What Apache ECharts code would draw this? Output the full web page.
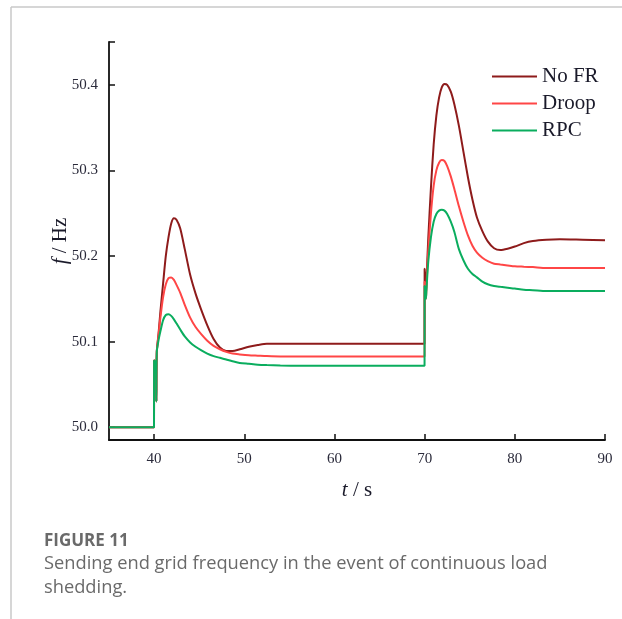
<!DOCTYPE html>
<html>
<head>
<meta charset="utf-8">
<script src="https://cdn.jsdelivr.net/npm/echarts@6/dist/echarts.min.js"></script>
<style>
  html, body { margin: 0; padding: 0; background: #fff; }
  #chart { width: 622px; height: 619px; }
</style>
</head>
<body>
<div id="chart"></div>
<script>
// ==============================
// data
// ==============================
const seriesNames = ['No FR', 'Droop', 'RPC'];
const seriesColors = ['#8e1b1b', '#ff4646', '#0aad5e'];

const timeS = [
  35, 39.99, 40.0, 40.2, 40.25, 40.3, 40.5, 40.7, 41.0, 41.3, 41.6, 41.9, 42.2, 42.5, 42.9,
  43.4, 44.0, 44.6, 45.2, 45.9, 46.6, 47.3, 48.0, 48.7, 49.5, 50.5, 51.5, 52.5, 54, 56, 60, 65,
  69.99, 70.0, 70.15, 70.2, 70.4, 70.7, 71.0, 71.3, 71.6, 71.9, 72.2, 72.5, 72.9, 73.3, 73.8,
  74.3, 74.8, 75.3, 75.8, 76.4, 77.0, 77.7, 78.4, 79.2, 80.0, 81.0, 82.0, 83.5, 85, 87.5, 90
];

const noFR = [
  50.0, 50.0, 50.078, 50.075, 50.03, 50.088, 50.110, 50.135, 50.168, 50.200, 50.222, 50.238, 50.244, 50.242, 50.232,
  50.208, 50.178, 50.156, 50.138, 50.119, 50.103, 50.093, 50.089, 50.089, 50.091, 50.094, 50.096, 50.0975, 50.0975, 50.0975, 50.0975, 50.0975,
  50.0975, 50.185, 50.155, 50.170, 50.220, 50.280, 50.330, 50.364, 50.385, 50.397, 50.401, 50.400, 50.392, 50.377, 50.352,
  50.322, 50.292, 50.266, 50.245, 50.229, 50.217, 50.209, 50.207, 50.2085, 50.211, 50.215, 50.2175, 50.219, 50.2195, 50.219, 50.2185
];

const droop = [
  50.0, 50.0, 50.078, 50.075, 50.03, 50.088, 50.108, 50.128, 50.152, 50.167, 50.174, 50.175, 50.172, 50.166, 50.157,
  50.143, 50.128, 50.117, 50.109, 50.101, 50.095, 50.091, 50.088, 50.086, 50.085, 50.084, 50.0835, 50.083, 50.0826, 50.0826, 50.0826, 50.0826,
  50.0826, 50.170, 50.150, 50.165, 50.205, 50.250, 50.282, 50.300, 50.309, 50.312, 50.311, 50.305, 50.293, 50.278, 50.258,
  50.240, 50.224, 50.212, 50.204, 50.198, 50.194, 50.191, 50.190, 50.189, 50.188, 50.1875, 50.187, 50.186, 50.186, 50.186, 50.186
];

const rpc = [
  50.0, 50.0, 50.078, 50.075, 50.03, 50.088, 50.102, 50.112, 50.125, 50.131, 50.132, 50.130, 50.126, 50.121, 50.114,
  50.106, 50.099, 50.094, 50.090, 50.086, 50.083, 50.081, 50.079, 50.077, 50.075, 50.074, 50.073, 50.0725, 50.072, 50.0717, 50.0717, 50.0717,
  50.0717, 50.165, 50.150, 50.160, 50.193, 50.222, 50.240, 50.249, 50.253, 50.254, 50.253, 50.249, 50.240, 50.228, 50.208,
  50.195, 50.185, 50.179, 50.175, 50.170, 50.167, 50.165, 50.164, 50.163, 50.162, 50.1605, 50.160, 50.159, 50.159, 50.159, 50.159
];

const xTicks = [40, 50, 60, 70, 80, 90];
const yTicks = [50.0, 50.1, 50.2, 50.3, 50.4];

const allValues = [noFR, droop, rpc];

// ==============================
// chart
// ==============================
const chart = echarts.init(document.getElementById('chart'));

const axisFont = 'Liberation Serif';
const captionFont = '"Open Sans"';

chart.setOption({
  animation: false,
  backgroundColor: '#fff',
  grid: { left: 109, top: 42, right: 17, bottom: 179 },
  legend: {
    orient: 'vertical',
    left: 492,
    top: 66,
    padding: 0,
    icon: 'rect',
    itemWidth: 45,
    itemHeight: 2,
    itemGap: 6,
    data: seriesNames,
    textStyle: { fontFamily: axisFont, fontSize: 21, color: '#1a1a2a' }
  },
  xAxis: {
    type: 'value',
    min: 35,
    max: 90,
    splitLine: { show: false },
    axisLine: { onZero: false, lineStyle: { color: '#111', width: 1.8 } },
    axisTick: { inside: true, length: 6, customValues: xTicks, lineStyle: { color: '#111', width: 1.5 } },
    axisLabel: { customValues: xTicks, margin: 12, fontFamily: axisFont, fontSize: 15, color: '#2a2a3a' },
    name: '{i|t} / s',
    nameLocation: 'middle',
    nameGap: 40,
    nameMoveOverlap: false,
    nameTextStyle: {
      fontFamily: axisFont, fontSize: 21, color: '#1a1a2a',
      rich: { i: { fontFamily: axisFont, fontSize: 21, fontStyle: 'italic', color: '#1a1a2a' } }
    }
  },
  yAxis: {
    type: 'value',
    min: 49.985,
    max: 50.45,
    splitLine: { show: false },
    axisLine: { onZero: false, lineStyle: { color: '#111', width: 1.8 } },
    axisTick: { inside: true, length: 6, customValues: yTicks.concat([50.45]), lineStyle: { color: '#111', width: 1.5 } },
    axisLabel: {
      customValues: yTicks, margin: 11, fontFamily: axisFont, fontSize: 15, color: '#2a2a3a',
      formatter: v => v.toFixed(1)
    },
    name: '{i|f} / Hz',
    nameLocation: 'middle',
    nameGap: 38,
    nameMoveOverlap: false,
    nameTextStyle: {
      fontFamily: axisFont, fontSize: 21, color: '#1a1a2a',
      rich: { i: { fontFamily: axisFont, fontSize: 21, fontStyle: 'italic', color: '#1a1a2a' } }
    }
  },
  series: seriesNames.map((name, k) => ({
    name,
    type: 'line',
    symbol: 'none',
    smooth: 0.25,
    data: timeS.map((t, i) => [t, allValues[k][i]]),
    lineStyle: { color: seriesColors[k], width: 2 },
    itemStyle: { color: seriesColors[k] }
  })),
  graphic: [
    { type: 'line', shape: { x1: 11, y1: 7, x2: 622, y2: 7 }, style: { stroke: '#c8c8c8', lineWidth: 1.5 } },
    { type: 'line', shape: { x1: 11, y1: 7, x2: 11, y2: 619 }, style: { stroke: '#c8c8c8', lineWidth: 1.5 } },
    {
      type: 'text', left: 44, top: 533,
      style: { text: 'FIGURE 11', font: '700 17px ' + captionFont, fill: '#6a6a6a' }
    },
    {
      type: 'text', left: 44, top: 555,
      style: { text: 'Sending end grid frequency in the event of continuous load', font: '18.3px ' + captionFont, fill: '#6a6a6a' }
    },
    {
      type: 'text', left: 44, top: 579,
      style: { text: 'shedding.', font: '18.3px ' + captionFont, fill: '#6a6a6a' }
    }
  ]
});
</script>
</body>
</html>
